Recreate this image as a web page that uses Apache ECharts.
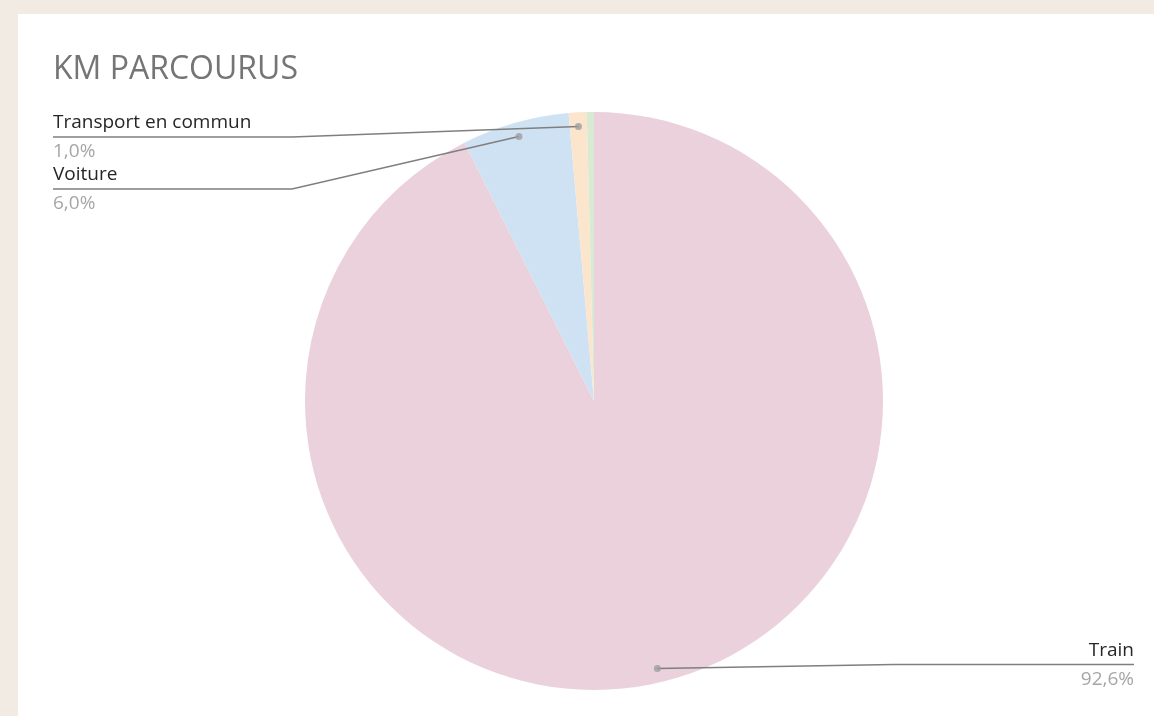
<!DOCTYPE html>
<html>
<head>
<meta charset="utf-8">
<script src="https://cdn.jsdelivr.net/npm/echarts@6/dist/echarts.min.js"></script>
<style>
  html, body { margin: 0; padding: 0; background: #f2ebe4; }
  #chart { width: 1154px; height: 716px; }
</style>
</head>
<body>
<div id="chart"></div>
<script>
const categories = ['Train', 'Voiture', 'Transport en commun', 'Autre'];
const values = [92.6, 6.0, 1.0, 0.4];
const colors = ['#ead1dc', '#cfe2f3', '#fce5cd', '#d9ead3'];
const labelled = [true, true, true, false];

const total = values.reduce((a, b) => a + b, 0);
const center = [594, 401];
const radius = 289;
const dotRadius = 275;
const font = '"Open Sans", sans-serif';

const chart = echarts.init(document.getElementById('chart'));

function pct(v) {
  return (v / total * 100).toFixed(1).replace('.', ',') + '%';
}

// middle of each slice, in the same units as the values (for the dots)
const mids = [];
let acc = 0;
values.forEach(v => { mids.push(acc + v / 2); acc += v; });
const dots = mids.filter((m, i) => labelled[i]).map(m => [dotRadius, m]);

// excel-like leader lines: line runs under the category name
function placeLabel(p) {
  if (!p.labelLinePoints) return;
  const start = p.labelLinePoints[0];
  if (start[0] < center[0]) {
    let rank = 0;
    for (let i = p.dataIndex + 1; i < values.length; i++) if (labelled[i]) rank++;
    const y = 137 + rank * 52;
    return {
      x: 53, y: y, align: 'left', verticalAlign: 'middle',
      labelLinePoints: [start, [292, y], [53, y]]
    };
  }
  const right = chart.getWidth() - 20;
  const y = start[1] - 4;
  return {
    x: right, y: y, align: 'right', verticalAlign: 'middle',
    labelLinePoints: [start, [right - 240, y], [right, y]]
  };
}

chart.setOption({
  animation: false,
  graphic: [{
    type: 'rect', left: 18, top: 14, z: -10,
    shape: { width: 1136, height: 702 },
    style: { fill: '#ffffff' }
  }],
  title: {
    text: 'KM PARCOURUS',
    left: 53, top: 54, padding: 0,
    textStyle: { fontFamily: font, fontSize: 32, fontWeight: 'normal', color: '#757575' }
  },
  polar: { center: center, radius: radius },
  angleAxis: { type: 'value', min: 0, max: total, startAngle: 90, clockwise: true, show: false },
  radiusAxis: { type: 'value', min: 0, max: radius, show: false },
  series: [
    {
      type: 'pie',
      center: center,
      radius: radius,
      startAngle: 90,
      clockwise: true,
      silent: true,
      label: { show: false },
      labelLine: { show: false },
      data: categories.map((c, i) => ({ name: c, value: values[i], itemStyle: { color: colors[i] } }))
    },
    {
      type: 'pie',
      center: center,
      radius: dotRadius,
      startAngle: 90,
      clockwise: true,
      silent: true,
      z: 3,
      itemStyle: { color: 'transparent' },
      label: {
        show: true,
        position: 'outside',
        formatter: p => '{n|' + p.name + '}\n{p|' + pct(p.value) + '}',
        rich: {
          n: { fontFamily: font, fontSize: 19, color: '#262626', lineHeight: 29 },
          p: { fontFamily: font, fontSize: 19, color: '#a6a6a6', lineHeight: 29 }
        }
      },
      labelLine: {
        show: true, length: 10, length2: 10,
        lineStyle: { color: '#7f7f7f', width: 1.5 }
      },
      labelLayout: placeLabel,
      data: categories.map((c, i) => ({
        name: c, value: values[i],
        label: { show: labelled[i] },
        labelLine: { show: labelled[i] }
      }))
    },
    {
      type: 'scatter',
      coordinateSystem: 'polar',
      silent: true,
      z: 4,
      symbolSize: 7,
      itemStyle: { color: '#9e9e9e' },
      data: dots
    }
  ]
});
</script>
</body>
</html>
